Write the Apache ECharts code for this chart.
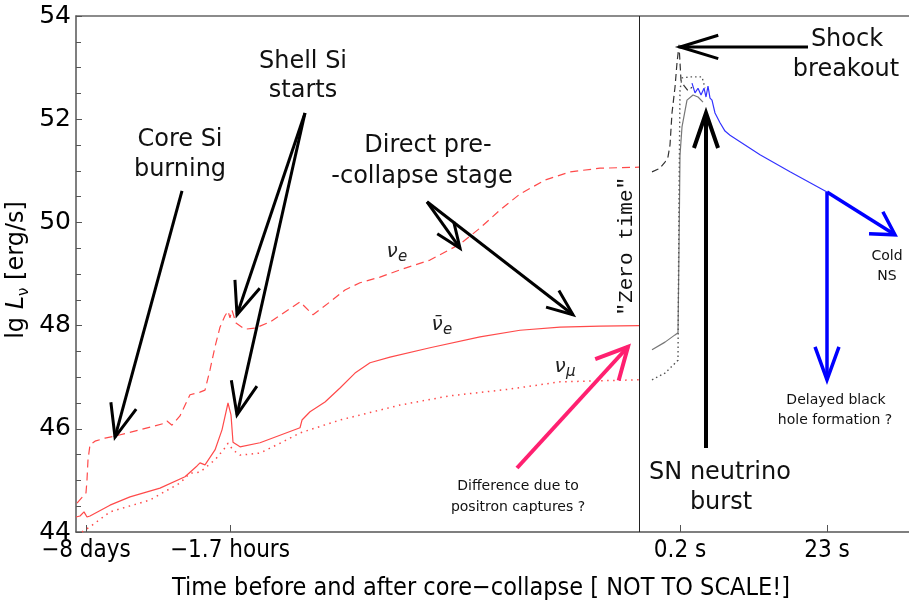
<!DOCTYPE html>
<html><head><meta charset="utf-8">
<script src="https://cdn.jsdelivr.net/npm/echarts@6/dist/echarts.min.js"></script>
<style>html,body{margin:0;padding:0;background:#fff}#c{width:909px;height:603px}</style>
</head><body><div id="c"></div>
<script>
// ---- data (x in "not to scale" ordinal time units, y = lg L [erg/s]) ----
const xTickValues = [10, 154, 604, 751];
const xTickLabels = ['\u22128 days', '\u22121.7 hours', '0.2 s', '23 s'];
const zeroTimeX = 563;

const nueXPre = [1,10,11,12,14,19,29,39,64,89,91,96,104,114,124,129,134,139,144,149,152,154,156,160,169,179,194,224,237,254,269,284,304,324,354,384,404,424,444,469,494,524,563];
const nueYPre = [44.56,44.76,45.01,45.40,45.69,45.76,45.82,45.86,45.98,46.11,46.15,46.07,46.25,46.66,46.71,46.75,47.14,47.59,47.97,48.19,48.28,48.15,48.30,48.05,47.93,47.95,48.07,48.46,48.21,48.46,48.69,48.83,48.94,49.08,49.27,49.58,49.89,50.24,50.55,50.82,50.98,51.05,51.07];

const nuebXPre = [0,4,8,11,14,34,54,84,109,121,124,129,139,146,152,155,157,164,184,224,226,234,249,264,279,294,314,354,404,444,484,524,563];
const nuebYPre = [44.29,44.31,44.39,44.29,44.31,44.52,44.68,44.85,45.07,45.28,45.34,45.30,45.59,45.98,46.50,46.27,45.74,45.65,45.73,46.02,46.17,46.33,46.52,46.79,47.08,47.28,47.39,47.57,47.78,47.91,47.97,47.99,48.00];

const numuXPre = [6,14,34,74,104,114,124,139,149,152,157,164,184,204,224,264,324,374,434,484,563];
const numuYPre = [44.0,44.10,44.39,44.62,44.95,45.14,45.16,45.40,45.63,45.72,45.59,45.49,45.53,45.72,45.92,46.17,46.46,46.64,46.77,46.91,46.95];

const nueXPost = [576,584,589,592,594,596,599,601,603,605,608,612,616];
const nueYPost = [50.98,51.05,51.17,51.27,51.50,52.12,52.62,53.09,53.44,52.75,52.65,52.55,52.62];

const nuebXPost = [576,589,599,602,603,604,606,611,617,622,627];
const nuebYPost = [47.53,47.68,47.82,47.86,49.5,51.3,51.85,52.37,52.47,52.43,52.33];

const numuXPost = [576,589,599,602,603,604,606,614,626,629];
const numuYPost = [46.95,47.08,47.27,47.33,50.43,52.57,52.80,52.82,52.82,52.60];

const coolXPost = [616,619,622,625,628,630,632,634,636,639,644,649,654,684,714,751];
const coolYPost = [52.70,52.51,52.60,52.47,52.60,52.43,52.64,52.41,52.37,52.12,51.93,51.77,51.69,51.31,50.98,50.59];

const zip = (xs, ys) => xs.map((x, i) => [x, ys[i]]);
const RED = '#ff4a4a';
const COND = "'DejaVu Sans Condensed', 'DejaVu Sans'";

function line(name, xs, ys, color, type, width) {
  return { name, type: 'line', data: zip(xs, ys), symbol: 'none', silent: true,
    lineStyle: { color, width: width || 1.2, type }, z: 3, animation: false };
}

const series = [
  line('nue', nueXPre, nueYPre, RED, [8, 5]),
  line('nueb', nuebXPre, nuebYPre, RED, 'solid'),
  line('numu', numuXPre, numuYPre, RED, [1.5, 4.5], 1.5),
  line('nue post', nueXPost, nueYPost, '#333', [7, 4]),
  line('nueb post', nuebXPost, nuebYPost, '#777', 'solid'),
  line('numu post', numuXPost, numuYPost, '#555', [1.5, 3], 1.4),
  line('cooling', coolXPost, coolYPost, '#3333ff', 'solid'),
];
series[0].markLine = { silent: true, symbol: 'none', label: { show: false },
  lineStyle: { color: '#222', width: 1, type: 'solid' }, data: [{ xAxis: zeroTimeX }], animation: false };

const option = {
  animation: false,
  backgroundColor: '#fff',
  grid: { left: 76, right: 0, top: 16, bottom: 71 },
  xAxis: [{
    type: 'value', min: 0, max: 833, position: 'bottom',
    axisLine: { show: true, lineStyle: { color: '#555', width: 1.5 } },
    axisTick: { show: true, inside: true, length: 7, customValues: xTickValues, lineStyle: { color: '#555' } },
    axisLabel: { customValues: xTickValues, margin: 7, fontSize: 24, color: '#000', fontFamily: COND,
      formatter: v => xTickLabels[xTickValues.indexOf(v)] || '' },
    splitLine: { show: false }
  }, {
    type: 'value', min: 0, max: 833, position: 'top',
    axisLine: { show: true, onZero: false, lineStyle: { color: '#666', width: 1.5 } },
    axisTick: { show: false }, axisLabel: { show: false }, splitLine: { show: false }
  }],
  yAxis: {
    type: 'value', min: 44, max: 54, interval: 2,
    axisLine: { show: true, lineStyle: { color: '#555', width: 1.5 } },
    axisTick: { show: true, inside: true, length: 6, lineStyle: { color: '#555' } },
    minorTick: { show: true, splitNumber: 4, length: 5, lineStyle: { color: '#555' } },
    axisLabel: { fontSize: 25, color: '#000', margin: 5, fontFamily: 'DejaVu Sans' },
    splitLine: { show: false }
  },
  series
};

const chart = echarts.init(document.getElementById('c'), null, { renderer: 'canvas' });
chart.setOption(option);

// ---- annotations (data coordinates) ----
const arrows = [
  { from: [106, 50.61], to: [39, 45.84], color: '#000', w: 3 },
  { from: [229, 52.12], to: [161, 48.21], color: '#000', w: 3 },
  { from: [229, 52.12], to: [161, 46.27], color: '#000', w: 3 },
  { from: [351, 50.40], to: [384, 49.50], color: '#000', w: 3, len: 27 },
  { from: [351, 50.40], to: [497, 48.21], color: '#000', w: 3, len: 28 },
  { from: [441, 45.24], to: [552, 47.59], color: '#ff2070', w: 4, ang: 27 },
  { from: [732, 53.40], to: [604, 53.40], color: '#000', w: 3, len: 40, ang: 17 },
  { from: [630, 45.63], to: [630, 52.12], color: '#000', w: 4, len: 37, ang: 19 },
  { from: [751, 50.59], to: [819, 49.76], color: '#0000ff', w: 3.5, len: 26, ang: 30 },
  { from: [751, 50.59], to: [751, 46.95], color: '#0000ff', w: 3.5, len: 35, ang: 20 },
];
const texts = [
  { t: 'Core Si', at: [104, 51.60], size: 24 },
  { t: 'burning', at: [104, 51.02], size: 24 },
  { t: 'Shell Si', at: [227, 53.11], size: 24 },
  { t: 'starts', at: [227, 52.55], size: 24 },
  { t: 'Direct pre-', at: [352, 51.48], size: 24 },
  { t: '-collapse stage', at: [346, 50.88], size: 24 },
  { t: 'Shock', at: [771, 53.53], size: 24 },
  { t: 'breakout', at: [770, 52.95], size: 24 },
  { t: 'SN neutrino', at: [644, 45.14], size: 24 },
  { t: 'burst', at: [645, 44.56], size: 24 },
  { t: 'Difference due to', at: [442, 44.89], size: 14 },
  { t: 'positron captures ?', at: [442, 44.48], size: 14 },
  { t: 'Cold', at: [811, 49.35], size: 14 },
  { t: 'NS', at: [811, 48.96], size: 14 },
  { t: 'Delayed black', at: [760, 46.56], size: 14 },
  { t: 'hole formation ?', at: [759, 46.17], size: 14 },
];
const nuLabels = [
  { main: '\u03bd', sub: 'e', at: [316, 49.43] },
  { main: '\u03bd\u0304', sub: 'e', at: [361, 48.01] },
  { main: '\u03bd', sub: '\u03bc', at: [484, 47.20] },
];

const P = (p) => chart.convertToPixel({ seriesIndex: 0 }, p);
const g = [];
arrows.forEach(a => {
  const s = P(a.from), t = P(a.to);
  const len = a.len || 35, ang = (a.ang || 22) * Math.PI / 180;
  const dx = s[0] - t[0], dy = s[1] - t[1], d = Math.hypot(dx, dy);
  const ux = dx / d, uy = dy / d;
  const rot = (c, sn) => [t[0] + len * (ux * c - uy * sn), t[1] + len * (ux * sn + uy * c)];
  const h1 = rot(Math.cos(ang), Math.sin(ang)), h2 = rot(Math.cos(-ang), Math.sin(-ang));
  const st = { stroke: a.color, lineWidth: a.w, lineCap: 'butt', lineJoin: 'miter' };
  g.push({ type: 'line', shape: { x1: s[0], y1: s[1], x2: t[0], y2: t[1] }, style: st, z: 10 });
  g.push({ type: 'polyline', shape: { points: [h1, t, h2] }, style: Object.assign({ fill: null }, st), z: 10 });
});
texts.forEach(o => {
  const p = P(o.at);
  g.push({ type: 'text', x: p[0], y: p[1], z: 11, style: { text: o.t, x: 0, y: 0, align: 'center', verticalAlign: 'middle',
    fontSize: o.size, fontFamily: 'DejaVu Sans', fill: '#111' } });
});
nuLabels.forEach(o => {
  const p = P(o.at);
  g.push({ type: 'text', x: p[0], y: p[1], z: 11, style: { text: o.main, x: 0, y: 0, align: 'center', verticalAlign: 'middle',
    fontSize: 20, fontStyle: 'italic', fontFamily: 'DejaVu Sans', fill: '#222' } });
  g.push({ type: 'text', x: p[0] + 6, y: p[1] + 5, z: 11, style: { text: o.sub, x: 0, y: 0, align: 'left', verticalAlign: 'middle',
    fontSize: 15, fontStyle: 'italic', fontFamily: 'DejaVu Sans', fill: '#222' } });
});
// "Zero time" vertical label
const zt = P([550, 49.54]);
g.push({ type: 'text', x: zt[0], y: zt[1], rotation: Math.PI / 2, z: 11, style: { text: '"Zero time"', x: 0, y: 0,
  align: 'center', verticalAlign: 'middle', fontSize: 21, fontFamily: 'Liberation Mono', fill: '#111' } });
// axis titles
g.push({ type: 'text', x: 17, y: 270, rotation: Math.PI / 2, z: 11, style: {
  text: '{a|lg }{i|L}{s|\u03bd}{a| [erg/s]}', x: 0, y: 0, align: 'center', verticalAlign: 'middle',
  rich: { a: { fontSize: 24, fontFamily: 'DejaVu Sans', fill: '#000', lineHeight: 30 },
          i: { fontSize: 24, fontFamily: 'DejaVu Sans', fontStyle: 'italic', fill: '#000', lineHeight: 30 },
          s: { fontSize: 15, fontFamily: 'DejaVu Sans', fill: '#000', lineHeight: 30, verticalAlign: 'bottom', padding: [9, 0, 0, 0] } } } });
g.push({ type: 'text', x: 481, y: 588, z: 11, style: { text: 'Time before and after core\u2212collapse [ NOT TO SCALE!]', x: 0, y: 0,
  align: 'center', verticalAlign: 'middle', fontSize: 25, fontFamily: COND, fill: '#000' } });
chart.setOption({ graphic: g });
</script></body></html>
